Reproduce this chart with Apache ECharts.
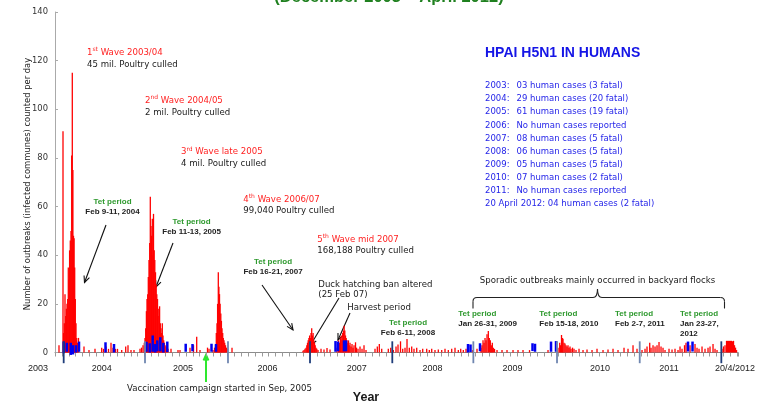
<!DOCTYPE html>
<html><head><meta charset="utf-8">
<script src="https://cdn.jsdelivr.net/npm/echarts@6/dist/echarts.min.js"></script>
<style>html,body{margin:0;padding:0;background:#fff}#c{width:766px;height:405px}</style>
</head><body><div id="c"></div>
<script>
// x values: months since 1 January 2004 (decimal); y: outbreaks per day
const yearLabels = ['2003','2004','2005','2006','2007','2008','2009','2010','2011','20/4/2012'];
const yearLabelPos = [0, 6.78, 18.57, 30.84, 43.78, 54.78, 66.38, 79.08, 89.09, 98.67];
const tetDark = [1.26, 37.00, 48.94, 96.68];
const tetLight = [13.06, 25.10, 60.70, 72.84, 84.84];

const wave1 = [[0.58,3],[1.161,91],[1.248,8],[1.349,12],[1.451,24],[1.553,15],[1.654,18],[1.741,20],[1.843,22],[1.930,35],[2.031,30],[2.118,42],[2.220,46],[2.322,50],[2.423,81],[2.510,115],[2.597,75],[2.684,48],[2.771,47],[2.858,35],[2.946,22],[3.047,12],[3.149,6],[3.250,4],[3.410,6]];
const sporadic2004 = [[4.208,2.5],[4.933,1],[5.804,1.5],[6.776,2],[7.037,1.5],[7.400,2.5],[7.763,1.5],[8.126,4],[8.416,2],[8.779,1.5],[9.069,1.5],[9.678,1],[10.259,2.5],[10.592,3],[11.028,1],[11.463,1]];
const wave2 = [[12.334,1.5],[12.551,2],[12.769,3],[12.957,4],[13.059,6],[13.161,10],[13.262,17],[13.349,22],[13.451,24],[13.538,31],[13.639,38],[13.741,45],[13.828,64],[13.930,52],[14.017,48],[14.118,55],[14.220,40],[14.292,57],[14.394,42],[14.481,38],[14.583,33],[14.684,28],[14.771,24],[14.873,22],[14.974,18],[15.076,15],[15.177,19],[15.279,12],[15.381,10],[15.482,8],[15.569,12],[15.671,7],[15.772,5],[15.874,4],[15.976,3],[16.106,2.5],[16.251,2],[16.396,1.5]];
const sporadic2005 = [[16.832,1.5],[17.847,1],[18.138,1],[19.589,2],[20.096,3],[20.561,6.5],[21.040,1],[22.128,2],[22.345,1.5]];
const wave3 = [[22.926,1],[23.143,2],[23.289,3],[23.405,8],[23.506,12],[23.593,20],[23.695,33],[23.782,27],[23.869,24],[23.956,20],[24.058,16],[24.145,13],[24.232,10],[24.333,8],[24.420,6],[24.522,5],[24.623,4],[24.740,3],[24.885,2],[25.030,1.5],[25.683,2]];
const wave4 = [[35.985,0.7],[36.130,1],[36.275,1.5],[36.420,2],[36.536,3],[36.638,4],[36.739,5],[36.841,6],[36.942,7],[37.044,6],[37.146,8],[37.247,10],[37.349,7],[37.450,8],[37.552,5],[37.653,4],[37.755,3],[37.871,2],[37.987,1.5],[38.161,1],[38.597,1.5],[39.032,1.2],[39.467,1.8],[39.903,1.2]];
const wave5 = [[40.918,2],[41.136,5],[41.281,4],[41.426,6],[41.528,7],[41.644,5],[41.745,8],[41.847,9],[41.948,11],[42.050,9],[42.152,7],[42.253,6],[42.369,5],[42.485,4],[42.587,5],[42.688,3],[42.805,4],[42.950,2.5],[43.095,3.5],[43.240,2],[43.385,3],[43.603,4.2],[43.748,2],[43.965,1.5],[44.256,2.5],[44.546,1.5],[44.836,3],[45.126,1]];
const sporadic2008 = [[46.432,1.5],[46.766,2.5],[47.056,3.5],[47.404,1.5],[48.362,1.5],[48.710,2],[49.087,1],[49.479,2.5],[49.769,3.3],[50.132,4.6],[50.451,1.5],[50.785,2],[51.075,5.5],[51.409,2],[51.757,2.5],[52.091,1.5],[52.483,2],[52.962,1],[53.353,1.5],[53.934,1.5],[54.311,1],[54.659,1.5],[55.138,1],[55.617,1.2],[56.110,1],[56.589,1.5],[57.068,1],[57.561,1.5],[58.040,2],[58.519,1],[58.867,1.5],[59.244,1]];
const sporadic2009 = [[59.636,1.5],[60.579,1],[61.232,1.5],[61.813,2],[61.958,3],[62.103,5],[62.248,4],[62.393,6],[62.538,5],[62.683,7.5],[62.872,8.8],[63.017,6],[63.162,5],[63.307,3],[63.452,4],[63.597,2],[63.771,1.5],[64.134,1],[64.860,1],[65.585,1],[66.456,1],[67.181,1],[67.907,1],[68.850,1]];
const sporadic2010 = [[71.534,1],[72.985,2],[73.232,4],[73.348,3],[73.493,7.2],[73.609,6],[73.711,5.7],[73.856,4],[74.001,3.7],[74.146,3],[74.291,2.5],[74.436,3],[74.581,2],[74.727,2.5],[74.872,1.5],[75.089,2],[75.307,1.5],[75.597,1],[76.032,1.5],[76.613,1],[77.193,1.2],[77.919,1],[78.644,1.5],[79.515,1],[80.240,1.2],[80.966,1.5],[81.691,1],[82.562,2],[83.142,1.5],[83.868,3],[84.448,1.5]];
const sporadic2011 = [[85.174,1],[85.609,1.5],[85.899,2.5],[86.291,4],[86.480,2],[86.770,3],[87.060,2.5],[87.350,3],[87.640,4.3],[87.931,2.5],[88.221,2],[88.511,1],[89.091,1.5],[89.527,1.2],[89.962,1.5],[90.397,1],[90.688,2.5],[90.978,1.5],[91.340,3],[91.558,4],[92.139,3],[92.864,3.5],[93.154,2],[93.444,1.5],[93.880,2.5],[94.315,1.5],[94.750,2],[95.041,2.5],[95.476,3.5],[95.766,1.5],[96.056,1]];
const sporadic2012 = [[96.782,1.5],[97.0,2.5],[97.217,3],[97.435,4.8],[97.580,4.8],[97.725,4.8],[97.870,4.8],[98.015,4.8],[98.160,4.8],[98.305,4.6],[98.450,4.8],[98.595,3],[98.741,2],[98.886,1]];
// blue marks: [month, low, high]
const humanCases = [[1.262,-0.3,4.5],[1.712,0.3,4],[2.293,-1,4],[2.612,-0.8,3],[3.047,0,3],[3.482,0.3,4.5],[7.328,0,4.2],[8.561,0,3.5],[13.277,0.3,4.4],[13.741,0,3.8],[14.176,0.3,7],[14.554,0,3.5],[14.844,0.5,5],[15.279,0.5,6.3],[15.714,0,4],[16.295,0.2,4.5],[18.965,0.3,3.6],[19.951,0.5,3.5],[22.708,0.3,3.6],[23.361,0.3,3.5],[40.701,0.3,4.7],[41.063,0.5,4.5],[41.934,0.5,5],[42.224,0.5,5],[59.926,0,3.5],[60.289,0.2,3.3],[61.668,0.5,3.8],[69.285,0.6,3.8],[69.648,0.3,3.6],[71.970,0.3,4.5],[72.695,0.3,4.7],[91.848,0.4,4.5],[92.501,0.4,4.5]];

const humanYears = ['2003:','2004:','2005:','2006:','2007:','2008:','2009:','2010:','2011:'];
const humanText = ['03 human cases (3 fatal)','29 human cases (20 fatal)','61 human cases (19 fatal)','No human cases reported','08 human cases (5 fatal)','06 human cases (5 fatal)','05 human cases (5 fatal)','07 human cases (2 fatal)','No human cases reported'];
const humanLast = '20 April 2012: 04 human cases (2 fatal)';

const outbreaks = [].concat(wave1, sporadic2004, wave2, sporadic2005, wave3, wave4, wave5, sporadic2008, sporadic2009, sporadic2010, sporadic2011, sporadic2012);

const DV = '"DejaVu Sans", Verdana, sans-serif';
const LS = '"Liberation Sans", Arial, sans-serif';
const BLACK = '#1a1a1a', RED = '#ff1f1f', GREEN = '#2f9a2f', BLUE = '#1f1fe8';

function txt(x, y, s, st) {
  return {type:'text', x:x, y:y, silent:true, style:Object.assign({text:s, fill:BLACK, fontSize:8.6, fontFamily:DV, align:'left', verticalAlign:'middle'}, st || {})};
}
function wave(x, y, num, sup, rest) {
  return {type:'text', x:x, y:y, silent:true, style:{text:'{n|'+num+'}{s|'+sup+'}{n|'+rest+'}', align:'left', verticalAlign:'middle',
    rich:{n:{fontSize:8.6, fontFamily:DV, fill:RED, lineHeight:12}, s:{fontSize:6, fontFamily:DV, fill:RED, lineHeight:5, verticalAlign:'top'}}}};
}
function tet(x, y, dates, align) {
  const out = [txt(x, y, 'Tet period', {fontSize:8, fontFamily:LS, fontWeight:'bold', fill:GREEN, align:align})];
  dates.forEach(function(d, i){ out.push(txt(x, y + 10 + i*10, d, {fontSize:8, fontFamily:LS, fontWeight:'bold', fill:'#222', align:align})); });
  return out;
}
function arrow(x1, y1, x2, y2, color, w, h) {
  const a = Math.atan2(y2 - y1, x2 - x1), s = 0.42;
  return {type:'group', silent:true, children:[
    {type:'line', shape:{x1:x1, y1:y1, x2:x2, y2:y2}, style:{stroke:color, lineWidth:w}},
    {type:'polyline', shape:{points:[[x2 - h*Math.cos(a - s), y2 - h*Math.sin(a - s)], [x2, y2], [x2 - h*Math.cos(a + s), y2 - h*Math.sin(a + s)]]}, style:{stroke:color, lineWidth:w, fill:null}}
  ]};
}
function seg(x1, y1, x2, y2) { return {type:'line', shape:{x1:x1, y1:y1, x2:x2, y2:y2}, style:{stroke:'#222', lineWidth:1.1}}; }
function curve(x1, y1, x2, y2, cx, cy) { return {type:'bezierCurve', shape:{x1:x1, y1:y1, x2:x2, y2:y2, cpx1:cx, cpy1:cy}, style:{stroke:'#222', lineWidth:1.1, fill:null}}; }

const brace = {type:'group', silent:true, children:[
  seg(473, 308.5, 473, 301.5), curve(473, 301.5, 477, 297.5, 473, 297.5), seg(477, 297.5, 593, 297.5),
  curve(593, 297.5, 597.5, 289, 597.5, 297.5), curve(597.5, 289, 602, 297.5, 597.5, 297.5),
  seg(602, 297.5, 720.5, 297.5), curve(720.5, 297.5, 724.5, 301.5, 724.5, 297.5), seg(724.5, 301.5, 724.5, 308.5)
]};

const graphics = [
  txt(389, -3, '(December 2003 \u2013 April 2012)', {fontSize:16.5, fontFamily:LS, fontWeight:'bold', fill:'#1f801f', align:'center'}),
  wave(87, 52.7, '1', 'st', ' Wave 2003/04'),
  txt(87, 65, '45 mil. Poultry culled'),
  wave(145, 100.8, '2', 'nd', ' Wave 2004/05'),
  txt(145, 112.8, '2 mil. Poultry culled'),
  wave(181, 152, '3', 'rd', ' Wave late 2005'),
  txt(181, 163.3, '4 mil. Poultry culled'),
  wave(243.3, 199.7, '4', 'th', ' Wave 2006/07'),
  txt(243.3, 210.5, '99,040 Poultry culled'),
  wave(317.3, 239.7, '5', 'th', ' Wave mid 2007'),
  txt(317.3, 250.3, '168,188 Poultry culled'),
  txt(485, 52.8, 'HPAI H5N1 IN HUMANS', {fontSize:14, fontFamily:LS, fontWeight:'bold', fill:'#1515e6'}),
  txt(318.3, 285, 'Duck hatching ban altered'),
  txt(318.3, 295, '(25 Feb 07)'),
  txt(347.3, 307.7, 'Harvest period'),
  txt(597.5, 280.7, 'Sporadic outbreaks mainly occurred in backyard flocks', {align:'center'}),
  txt(219.5, 388.3, 'Vaccination campaign started in Sep, 2005', {align:'center'}),
  txt(366, 397.5, 'Year', {fontSize:12.5, fontFamily:LS, fontWeight:'bold', align:'center'}),
  {type:'text', x:27.5, y:184, rotation:Math.PI/2, silent:true, style:{text:'Number of outbreaks (infected communes) counted per day', fill:'#222', fontSize:8.4, fontFamily:DV, align:'center', verticalAlign:'middle'}},
  arrow(106, 225, 84.5, 282.5, '#111', 1.1, 7),
  arrow(173, 243, 156, 287, '#111', 1.1, 7),
  arrow(262, 285, 293, 330, '#111', 1.1, 7),
  arrow(339, 298, 310.5, 345, '#111', 1.1, 7),
  arrow(350, 313, 338, 340, '#111', 1.1, 7),
  arrow(206, 382, 206, 355, '#2ee82e', 2, 6),
  brace
].concat(
  tet(112.5, 202, ['Feb 9-11, 2004'], 'center'),
  tet(191.6, 221.5, ['Feb 11-13, 2005'], 'center'),
  tet(273, 261.5, ['Feb 16-21, 2007'], 'center'),
  tet(408, 322.5, ['Feb 6-11, 2008'], 'center'),
  tet(458.3, 314.2, ['Jan 26-31, 2009'], 'left'),
  tet(539.3, 314.2, ['Feb 15-18, 2010'], 'left'),
  tet(615, 314.2, ['Feb 2-7, 2011'], 'left'),
  tet(680, 314.2, ['Jan 23-27,', '2012'], 'left')
);
humanYears.forEach(function(y, i){
  graphics.push(txt(485, 86 + i*13.1, y, {fontSize:8.5, fill:BLUE}));
  graphics.push(txt(516.5, 86 + i*13.1, humanText[i], {fontSize:8.5, fill:BLUE}));
});
graphics.push(txt(485, 86 + 9*13.1, humanLast, {fontSize:8.5, fill:BLUE}));

function redBar(params, api) {
  const x = api.value(0), v = api.value(1);
  const b = api.coord([x, 0]), t = api.coord([x, v]);
  const w = 1.3;
  return {type:'rect', shape:{x:t[0] - w/2, y:t[1], width:w, height:b[1] - t[1]}, style:{fill:'#ff0000'}};
}
function blueBar(params, api) {
  const x = api.value(0), lo = api.value(1), hi = api.value(2);
  const b = api.coord([x, lo]), t = api.coord([x, hi]);
  const w = 2.5;
  return {type:'rect', shape:{x:t[0] - w/2, y:t[1], width:w, height:b[1] - t[1]}, style:{fill:'#0000f0'}};
}
function tetLine(color) {
  return function(params, api) {
    const x = api.value(0);
    const t = api.coord([x, 4.6]), b = api.coord([x, -4.4]);
    return {type:'line', shape:{x1:t[0], y1:t[1], x2:b[0], y2:b[1]}, style:{stroke:color, lineWidth:1.8}};
  };
}

const chart = echarts.init(document.getElementById('c'), null, {renderer:'canvas'});
chart.setOption({
  animation:false,
  grid:{left:55, right:28, top:12, bottom:52.5},
  xAxis:{type:'value', min:0, max:99.1, interval:1,
    axisLine:{lineStyle:{color:'#8c8c8c', width:1}},
    axisTick:{length:4, lineStyle:{color:'#9a9a9a'}},
    splitLine:{show:false},
    axisLabel:{customValues:yearLabelPos, showMinLabel:true, showMaxLabel:true, margin:12, color:'#222', fontSize:9, fontFamily:LS,
      formatter:function(v){
        let k = 0, d = 1e9;
        yearLabelPos.forEach(function(p, i){ if (Math.abs(p - v) < d) { d = Math.abs(p - v); k = i; } });
        return k === 0 ? '{l|' + yearLabels[0] + '}' : yearLabels[k];
      },
      rich:{l:{padding:[0,34,0,0], fontSize:9, fontFamily:LS, color:'#222'}}
    }
  },
  yAxis:{type:'value', min:0, max:140, interval:20,
    axisLine:{show:true, lineStyle:{color:'#aaaaaa'}},
    axisTick:{show:true, inside:true, length:3, lineStyle:{color:'#aaaaaa'}},
    splitLine:{show:false},
    axisLabel:{color:'#333', fontSize:8.4, fontFamily:DV, margin:7}
  },
  series:[
    {type:'custom', name:'Outbreaks', renderItem:redBar, data:outbreaks, encode:{x:0, y:1}},
    {type:'custom', name:'Human cases', renderItem:blueBar, data:humanCases, encode:{x:0, y:[1,2]}},
    {type:'custom', name:'Tet', renderItem:tetLine('#1f3d7a'), data:tetDark.map(function(m){return [m, 0];}), encode:{x:0, y:1}},
    {type:'custom', name:'Tet2', renderItem:tetLine('#6f86b0'), data:tetLight.map(function(m){return [m, 0];}), encode:{x:0, y:1}}
  ],
  graphic:graphics
});
</script></body></html>
